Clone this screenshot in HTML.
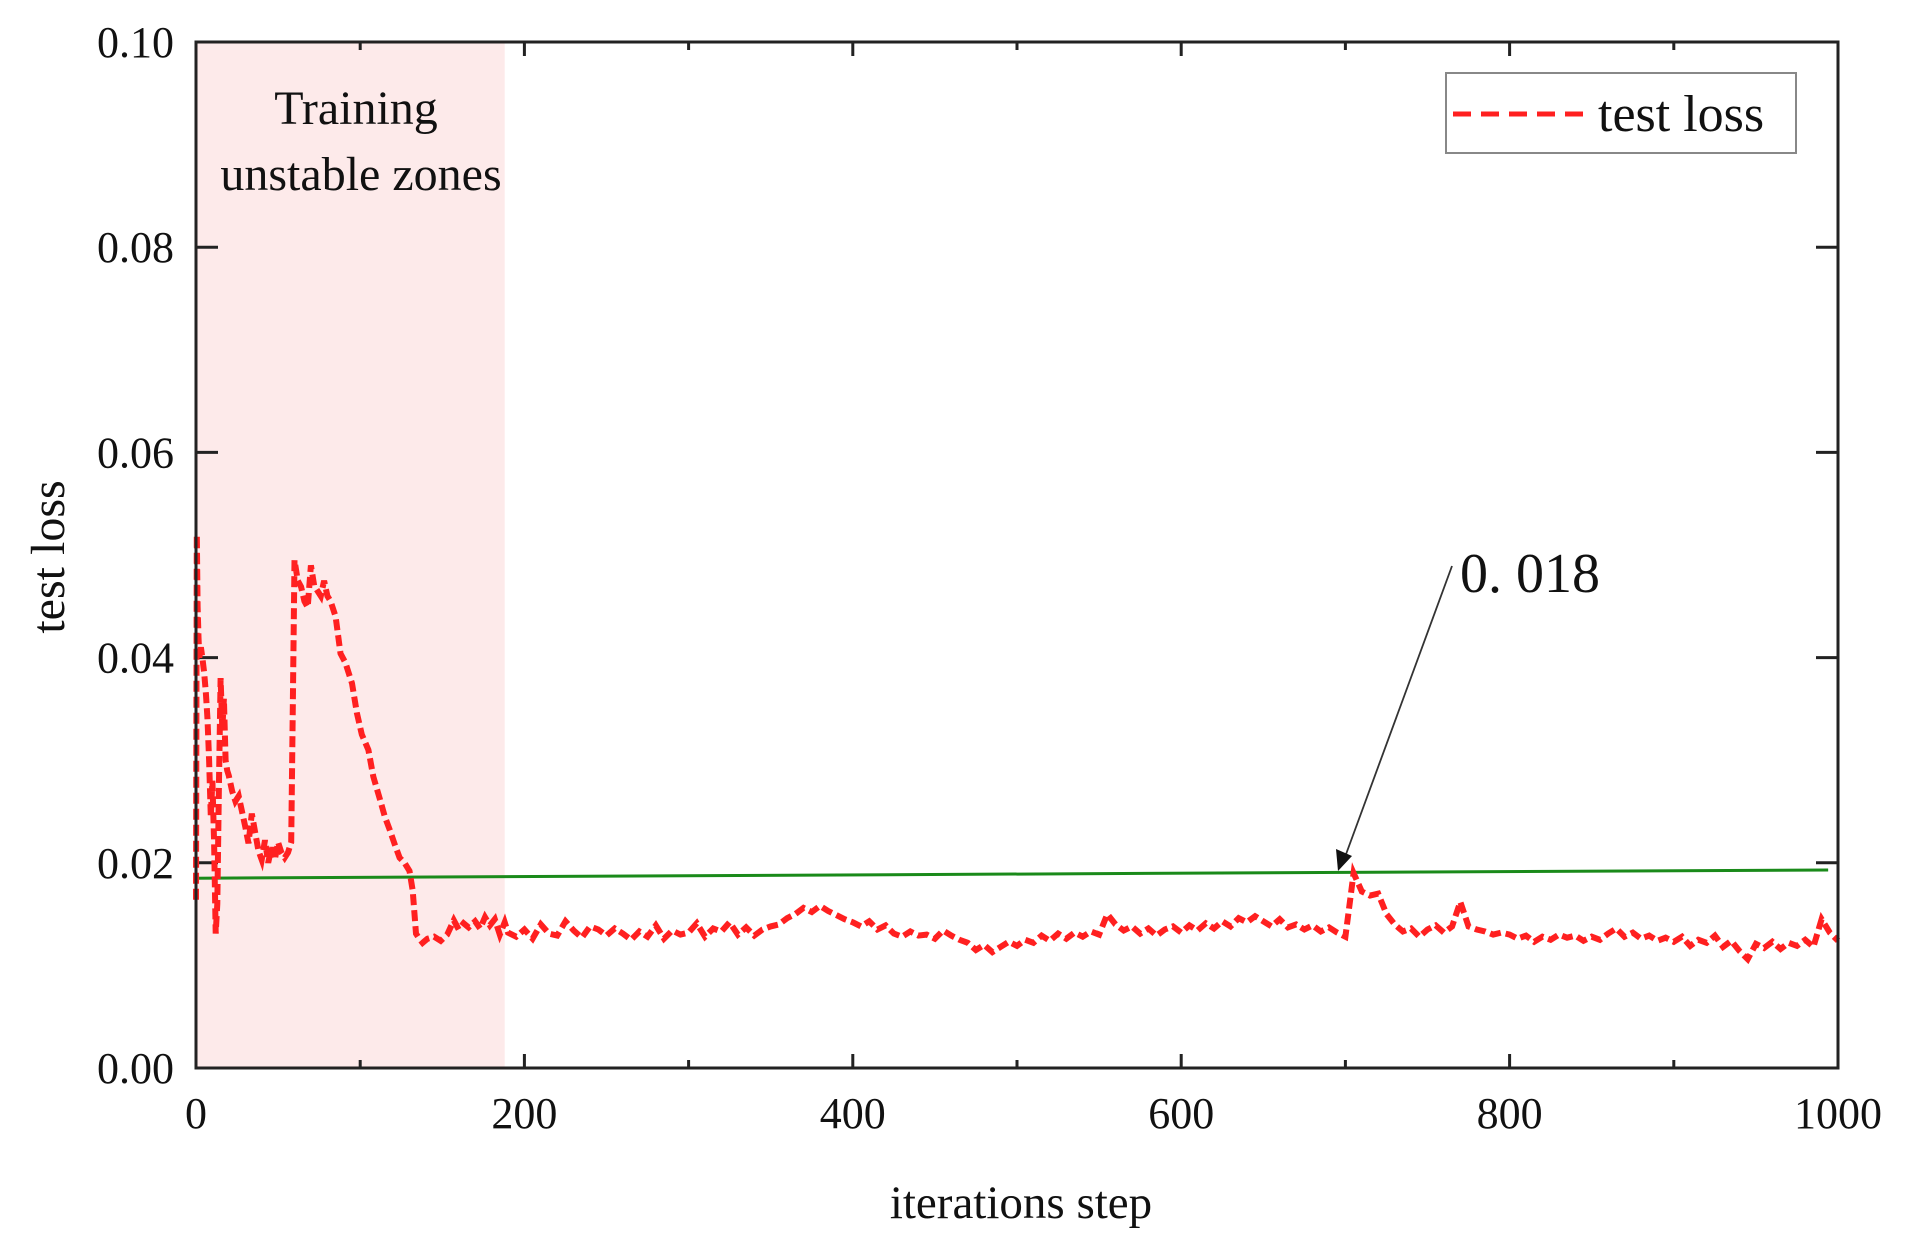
<!DOCTYPE html>
<html><head><meta charset="utf-8"><style>
html,body{margin:0;padding:0;background:#fff}
svg{display:block}
text{font-family:"Liberation Serif",serif;fill:#111}
</style></head><body>
<svg id="chart" width="1908" height="1242" viewBox="0 0 1908 1242" xmlns="http://www.w3.org/2000/svg">
<rect id="zone" fill="#fdeaea"/>
<g id="ticks"></g>
<g id="labels"></g>
<line id="ref" stroke="#1a8a1a" stroke-width="3"/>
<path id="loss" fill="none" stroke="#ff2020" stroke-width="6" stroke-dasharray="11,5"/>
<rect x="196" y="42" width="1642" height="1026" fill="none" stroke="#222" stroke-width="3"/>
<text x="356" y="124" font-size="48" text-anchor="middle">Training</text>
<text x="361" y="190" font-size="48" text-anchor="middle">unstable zones</text>
<g>
<rect x="1446" y="73" width="350" height="80" fill="#fff" stroke="#888" stroke-width="2"/>
<line x1="1453" y1="114" x2="1588" y2="114" stroke="#ff2020" stroke-width="5" stroke-dasharray="18,10"/>
<text x="1598" y="131" font-size="52">test loss</text>
</g>
<g>
<line x1="1452" y1="566" x2="1345" y2="857" stroke="#333" stroke-width="1.8"/>
<polygon points="1338,871 1336,849 1352,856" fill="#111"/>
<text x="1460" y="592" font-size="56">0. 018</text>
</g>
<text x="1021" y="1218" font-size="47" text-anchor="middle">iterations step</text>
<text transform="translate(64,557) rotate(-90)" font-size="48" text-anchor="middle">test loss</text>
</svg>
<script>
const xTicks=[0,200,400,600,800,1000];
const yTicks=[0,0.02,0.04,0.06,0.08,0.10];
const yTickLabels=["0.00","0.02","0.04","0.06","0.08","0.10"];
const zoneEnd=188;
const refStart=[0,0.0185];
const refEnd=[994,0.0193];
const earlySteps=[0,0.5,1,1.5,2,3,4,5,6,7,8,9,10,11,12,13,14,15,16,17,18,19,20,22,24,26,28,30,32,34,36,38,40,42,44,46,48,50,52,54,56,58,59,60,62,64,66,68,70,72,74,76,78,80,82,85,88,91,95,98,101,105,108,112,115,118,121,124,127,130,132,134,136,138,141,145,149,153,157,160,163,166,170,173,176,179,182,185,188];
const earlyLoss=[0.0164,0.052,0.045,0.042,0.040,0.041,0.0398,0.0385,0.0365,0.034,0.030,0.0245,0.028,0.022,0.0131,0.016,0.028,0.038,0.033,0.036,0.030,0.029,0.0285,0.027,0.026,0.0265,0.025,0.0235,0.0219,0.0248,0.023,0.0212,0.0203,0.0222,0.020,0.0215,0.0203,0.022,0.021,0.0205,0.021,0.022,0.036,0.0495,0.0475,0.0469,0.0455,0.0449,0.049,0.047,0.0465,0.046,0.0475,0.046,0.0455,0.044,0.0404,0.0395,0.0375,0.0346,0.0325,0.031,0.0284,0.0262,0.0245,0.0232,0.0218,0.0205,0.020,0.0192,0.0173,0.0131,0.0126,0.0122,0.0126,0.0128,0.0124,0.013,0.0144,0.0135,0.0141,0.0137,0.0143,0.0136,0.0147,0.0139,0.0145,0.013,0.0142];
const lateLoss=[13.2,12.8,13.5,12.6,14.0,13.1,12.9,14.3,13.4,12.7,13.8,13.5,12.9,13.6,13.1,12.5,13.3,12.8,13.9,12.6,13.4,13.0,
13.2,14.1,12.8,13.6,13.3,14.2,13.0,13.7,12.9,13.5,13.8,14.0,14.6,15.0,15.6,15.2,15.8,15.3,14.9,14.5,
14.2,13.8,14.3,13.5,13.9,13.1,12.8,13.3,12.9,13.0,12.6,13.4,12.9,12.5,12.2,11.5,12.0,11.3,11.8,12.3,
11.9,12.5,12.2,12.9,12.4,13.1,12.6,13.2,12.8,13.3,13.0,15.0,14.0,13.4,13.8,13.1,13.6,12.9,13.5,13.8,
13.2,13.9,13.4,14.1,13.6,14.3,13.8,14.6,14.2,14.8,14.3,13.8,14.5,13.7,14.0,13.5,13.9,13.3,13.7,13.2,
12.8,19.0,17.2,16.8,17.0,15.0,14.0,13.3,13.6,12.8,13.5,13.9,13.2,13.8,16.2,13.8,13.5,13.3,13.0,13.2,
13.0,12.6,12.9,12.3,12.8,12.5,13.0,12.7,12.9,12.4,12.8,12.5,13.1,13.6,12.8,13.2,12.6,12.9,12.4,12.7,
12.3,12.8,11.9,12.5,12.2,12.9,11.8,12.4,11.4,10.6,12.1,11.7,12.3,11.6,12.2,11.9,12.5,11.8,14.5,13.2,12.4];
const lateStart=190, lateStep=5;

const X0=196,X1=1838,Y0=1068,Y1=42;
const sx=v=>X0+(v-0)/(1000-0)*(X1-X0);
const sy=v=>Y0-(v-0)/(0.10-0)*(Y0-Y1);
const NS='http://www.w3.org/2000/svg';
function mk(tag,attrs,parent){const e=document.createElementNS(NS,tag);for(const k in attrs)e.setAttribute(k,attrs[k]);parent.appendChild(e);return e;}

const zone=document.getElementById('zone');
zone.setAttribute('x',sx(0));zone.setAttribute('y',Y1);
zone.setAttribute('width',sx(zoneEnd)-sx(0));zone.setAttribute('height',Y0-Y1);

const tg=document.getElementById('ticks'), lg=document.getElementById('labels');
xTicks.forEach((t,i)=>{
  const x=sx(t);
  const a=mk('line',{x1:x,y1:Y0,x2:x,y2:Y0-14,stroke:'#222','stroke-width':3},tg);
  
  
  const b=mk('line',{x1:x,y1:Y1,x2:x,y2:Y1+14,stroke:'#222','stroke-width':3},tg);
  
  
  if(i<xTicks.length-1){
    const m=t+100, xm=sx(m);
    const c=mk('line',{x1:xm,y1:Y0,x2:xm,y2:Y0-8,stroke:'#222','stroke-width':3},tg);
    
    
    const d=mk('line',{x1:xm,y1:Y1,x2:xm,y2:Y1+8,stroke:'#222','stroke-width':3},tg);
    
    
  }
  const l=mk('text',{x:x,y:1128,'font-size':44,'text-anchor':'middle'},lg);
  l.textContent=String(t);
  
  
});
yTicks.forEach((t,i)=>{
  const y=sy(t);
  const a=mk('line',{x1:X0,y1:y,x2:X0+22,y2:y,stroke:'#222','stroke-width':3},tg);
  
  
  const b=mk('line',{x1:X1,y1:y,x2:X1-22,y2:y,stroke:'#222','stroke-width':3},tg);
  
  
  const l=mk('text',{x:174,y:y+15,'font-size':44,'text-anchor':'end'},lg);
  l.textContent=yTickLabels[i];
  
  
});

const ref=document.getElementById('ref');
ref.setAttribute('x1',sx(refStart[0]));ref.setAttribute('y1',sy(refStart[1]));
ref.setAttribute('x2',sx(refEnd[0]));ref.setAttribute('y2',sy(refEnd[1]));

let d='';
earlySteps.forEach((s,i)=>{d+=(i?'L':'M')+sx(s).toFixed(1)+','+sy(earlyLoss[i]).toFixed(1);});
lateLoss.forEach((v,i)=>{d+='L'+sx(lateStart+i*lateStep).toFixed(1)+','+sy(v/1000).toFixed(1);});
document.getElementById('loss').setAttribute('d',d);
</script>
</body></html>
